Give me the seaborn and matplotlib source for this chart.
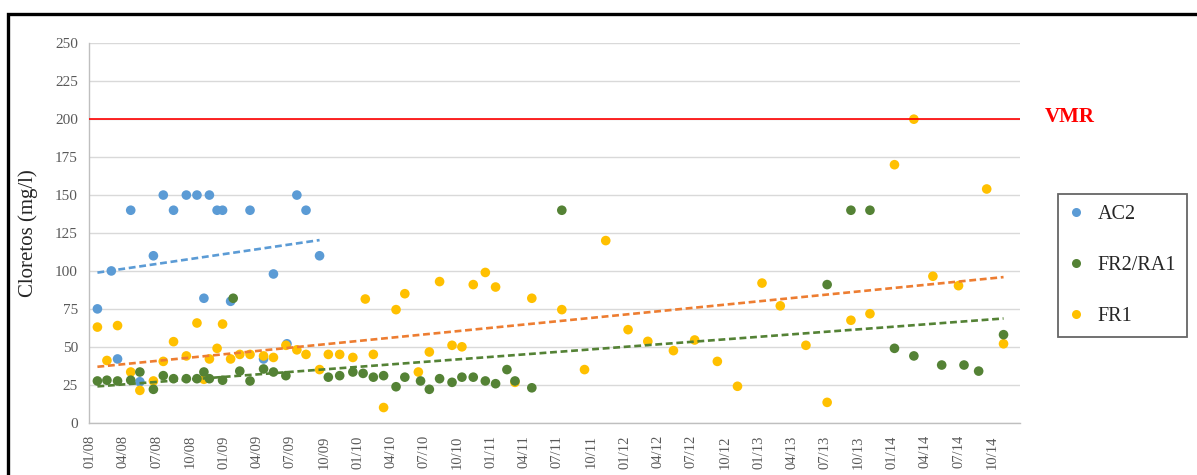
import numpy as np
import pandas as pd
import matplotlib
matplotlib.use("Agg")
import matplotlib.pyplot as plt
import matplotlib.dates as mdates
from matplotlib.patches import Rectangle
from matplotlib.lines import Line2D
import seaborn as sns

# ---------------- data ----------------
ac2_dates = ["2008-01-21", "2008-02-28", "2008-03-16", "2008-04-21", "2008-05-16", "2008-06-22",
             "2008-07-19", "2008-08-16", "2008-09-20", "2008-10-19", "2008-11-07", "2008-11-22",
             "2008-12-13", "2008-12-28", "2009-01-19", "2009-03-13", "2009-04-19", "2009-05-16",
             "2009-06-22", "2009-07-19", "2009-08-13", "2009-09-19"]
ac2_values = [75, 100, 42, 140, 27, 110, 150, 140, 150, 150, 82, 150,
              140, 140, 80, 140, 42, 98, 52, 150, 140, 110]

fr2_dates = ["2008-01-21", "2008-02-16", "2008-03-16", "2008-04-21", "2008-05-16", "2008-06-22",
             "2008-07-19", "2008-08-16", "2008-09-20", "2008-10-19", "2008-11-07", "2008-11-22",
             "2008-12-28", "2009-01-26", "2009-02-13", "2009-03-13", "2009-04-19", "2009-05-16",
             "2009-06-19", "2009-10-13", "2009-11-13", "2009-12-19", "2010-01-16", "2010-02-13",
             "2010-03-13", "2010-04-16", "2010-05-10", "2010-06-22", "2010-07-16", "2010-08-13",
             "2010-09-16", "2010-10-13", "2010-11-13", "2010-12-16", "2011-01-13", "2011-02-13",
             "2011-03-07", "2011-04-22", "2011-07-13", "2013-07-07", "2013-09-10", "2013-11-01",
             "2014-01-07", "2014-03-01", "2014-05-16", "2014-07-16", "2014-08-25", "2014-11-01"]
fr2_values = [27.5, 28, 27.5, 28, 33.4, 22, 31, 29, 29, 29, 33.4, 29,
              28, 82, 34, 27.5, 35.4, 33.4, 31, 30, 31, 33.4, 32.5, 30,
              31, 23.7, 30, 27.5, 22, 29, 26.6, 30, 30, 27.5, 25.7, 35,
              27.5, 23, 140, 91, 140, 140, 49, 44, 38, 38, 34, 58]

fr1_dates = ["2008-01-21", "2008-02-16", "2008-03-16", "2008-04-21", "2008-05-16", "2008-06-22",
             "2008-07-19", "2008-08-16", "2008-09-20", "2008-10-19", "2008-11-07", "2008-11-22",
             "2008-12-13", "2008-12-28", "2009-01-19", "2009-02-13", "2009-03-13", "2009-04-19",
             "2009-05-16", "2009-06-19", "2009-07-19", "2009-08-13", "2009-09-19", "2009-10-13",
             "2009-11-13", "2009-12-19", "2010-01-22", "2010-02-13", "2010-03-13", "2010-04-16",
             "2010-05-10", "2010-06-16", "2010-07-16", "2010-08-13", "2010-09-16", "2010-10-13",
             "2010-11-13", "2010-12-16", "2011-01-13", "2011-03-07", "2011-04-22", "2011-07-13",
             "2011-09-13", "2011-11-10", "2012-01-10", "2012-03-04", "2012-05-13", "2012-07-10",
             "2012-09-10", "2012-11-04", "2013-01-10", "2013-03-01", "2013-05-10", "2013-07-07",
             "2013-09-10", "2013-11-01", "2014-01-07", "2014-03-01", "2014-04-22", "2014-07-01",
             "2014-09-16", "2014-11-01"]
fr1_values = [63, 41, 64, 33.4, 21.3, 27.5, 40.4, 53.4, 44, 65.7, 28.6, 42,
              49, 65, 42, 45, 45, 44, 43, 51, 48, 45, 35, 45,
              45, 43, 81.5, 45, 10, 74.5, 85, 33.4, 46.6, 93, 51, 50,
              91, 99, 89.4, 26.6, 82, 74.5, 35, 120, 61.3, 53.6, 47.5, 54.5,
              40.4, 24, 92, 77, 51, 13.4, 67.5, 71.8, 170, 200, 96.5, 90.3,
              154, 52]

series_names = ["AC2", "FR2/RA1", "FR1"]
vmr_value = 200
vmr_label = "VMR"
y_label = "Cloretos (mg/l)"
y_ticks = [0, 25, 50, 75, 100, 125, 150, 175, 200, 225, 250]
x_tick_dates = pd.date_range("2008-01-01", "2014-10-01", freq="QS")

# ---------------- style ----------------
sns.set_theme(style="white")
plt.rcParams["font.family"] = ["Liberation Serif", "DejaVu Serif"]

colors = {"AC2": "#5B9BD5", "FR2/RA1": "#548235", "FR1": "#FFC000"}
trend_colors = {"AC2": "#5B9BD5", "FR2/RA1": "#548235", "FR1": "#ED7D31"}

W, H = 1197, 475
fig = plt.figure(figsize=(W / 100, H / 100), dpi=100)
ax = fig.add_axes([89 / W, 1 - 422.7 / H, (1020 - 89) / W, (422.7 - 43.3) / H])

frames = {
    "AC2": pd.DataFrame({"date": pd.to_datetime(ac2_dates), "value": ac2_values}),
    "FR2/RA1": pd.DataFrame({"date": pd.to_datetime(fr2_dates), "value": fr2_values}),
    "FR1": pd.DataFrame({"date": pd.to_datetime(fr1_dates), "value": fr1_values}),
}
for name, df in frames.items():
    df["x"] = mdates.date2num(df["date"])

# grid
ax.set_ylim(0, 250)
ax.set_yticks(y_ticks)
ax.yaxis.grid(True, color="#D9D9D9", lw=1.0)
ax.xaxis.grid(False)
ax.set_axisbelow(True)

# scatter: order of drawing AC2 -> FR1 -> FR2/RA1 (green on top)
z = {"AC2": 2, "FR1": 3, "FR2/RA1": 4}
for name in ["AC2", "FR1", "FR2/RA1"]:
    df = frames[name]
    sns.scatterplot(data=df, x="x", y="value", ax=ax, color=colors[name], s=48,
                    edgecolor="none", linewidth=0, zorder=z[name], label=name, legend=False)

# trend lines
for name in ["AC2", "FR1", "FR2/RA1"]:
    df = frames[name]
    sns.regplot(data=df, x="x", y="value", ax=ax, scatter=False, ci=None, truncate=True,
                line_kws=dict(color=trend_colors[name], lw=1.9, dashes=(2.6, 1.4),
                              zorder=6, solid_capstyle="butt", dash_capstyle="butt"))

ax.axhline(vmr_value, color="#FF0000", lw=1.2, zorder=5)

ax.set_xlim(mdates.date2num(pd.Timestamp("2007-12-29")), mdates.date2num(pd.Timestamp("2014-12-16")))
ax.set_xticks(mdates.date2num(x_tick_dates))
ax.set_xticklabels([d.strftime("%m/%y") for d in x_tick_dates], rotation=90,
                   fontsize=10.5, color="#595959")
ax.tick_params(axis="y", labelsize=11, colors="#595959", length=0, pad=8)
ax.tick_params(axis="x", length=0, pad=9)
ax.set_xlabel("")
ax.set_ylabel(y_label, fontsize=15, color="#262626", labelpad=12)

for side in ["top", "right"]:
    ax.spines[side].set_visible(False)
for side in ["left", "bottom"]:
    ax.spines[side].set_color("#BFBFBF")
    ax.spines[side].set_linewidth(1.0)

# VMR label
fig.text(1045 / W, 1 - 117 / H, vmr_label, color="#FF0000", fontsize=15, fontweight="bold",
         ha="left", va="center")

# legend
handles = [Line2D([], [], marker="o", ls="none", markersize=6.5, markeredgewidth=0,
                  color=colors[n]) for n in series_names]
leg = fig.legend(handles, series_names, loc="center",
                 bbox_to_anchor=((1056.7 + 1188.3) / 2 / W, 1 - (192.7 + 338.3) / 2 / H),
                 fontsize=14.5, frameon=True, fancybox=False, labelspacing=1.6,
                 handletextpad=0.75, borderpad=0.55, handlelength=0.7, borderaxespad=0)
leg.get_frame().set_edgecolor("#404040")
leg.get_frame().set_linewidth(1.3)

# outer black frame (cropped at right/bottom)
fig.add_artist(Rectangle((7.5 / W, -0.2), 1.5, 1 - 13.5 / H + 0.2, transform=fig.transFigure,
                         fill=False, edgecolor="black", lw=2.4, clip_on=False))

fig.savefig("out.png", dpi=100)
